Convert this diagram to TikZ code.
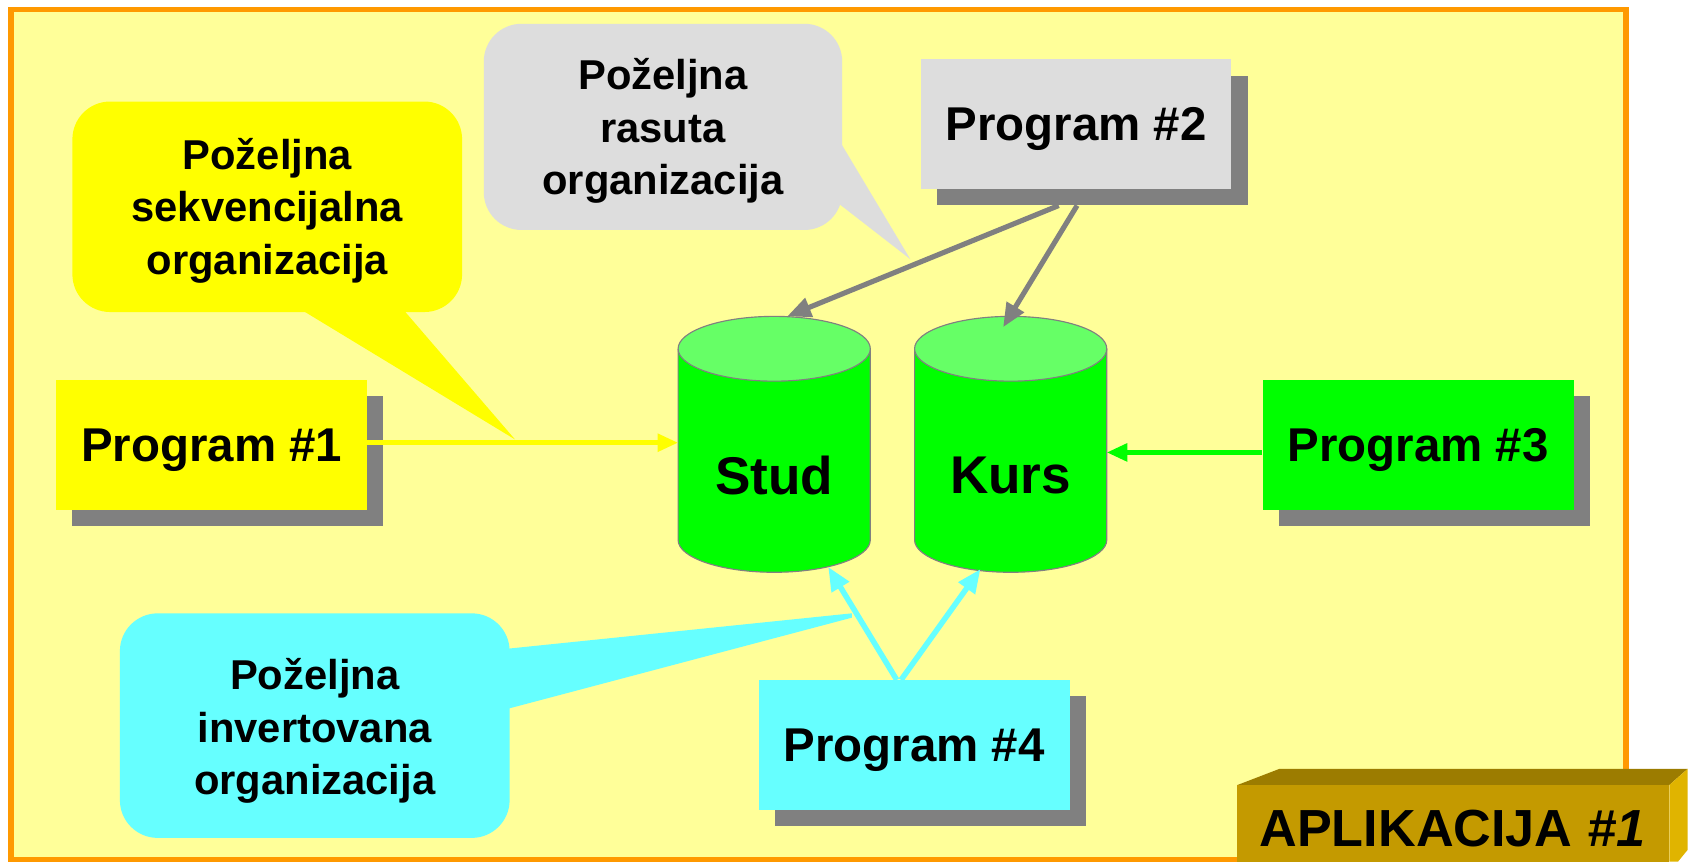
\documentclass[tikz,border=0pt]{standalone}
\usepackage{fontspec}
\setmainfont{Liberation Sans}
\usetikzlibrary{arrows.meta,shadows,calc}
\definecolor{bgyellow}{HTML}{FFFF99}
\definecolor{frameorange}{HTML}{FF9900}
\definecolor{pyellow}{HTML}{FFFF00}
\definecolor{pgray}{HTML}{DDDDDD}
\definecolor{shadowgray}{HTML}{808080}
\definecolor{pgreen}{HTML}{00FF00}
\definecolor{ltgreen}{HTML}{66FF66}
\definecolor{pcyan}{HTML}{66FFFF}
\definecolor{goldfront}{HTML}{C49A00}
\definecolor{goldtop}{HTML}{9C7C00}
\definecolor{goldside}{HTML}{E0B400}
\begin{document}
\begin{tikzpicture}[x=0.02cm,y=-0.02cm,
  progbox/.style={minimum width=5.76cm, minimum height=2.4cm, inner sep=0pt, text depth=0pt,
    font=\bfseries\fontsize{25}{30}\selectfont,
    drop shadow={shadow xshift=0.3cm, shadow yshift=-0.3cm, fill=shadowgray, opacity=1}},
  callbox/.style={rounded corners=0.7cm, inner sep=0pt, align=center,
    font=\bfseries\fontsize{22}{27.6}\selectfont},
  dblabel/.style={font=\bfseries\fontsize{28}{32}\selectfont, inner sep=0pt},
  cylbody/.style={fill=pgreen, draw=shadowgray, line width=0.6pt},
  cyltop/.style={fill=ltgreen, draw=shadowgray, line width=0.6pt},
  grayarrow/.style={draw=shadowgray, line width=2.7pt, -{Triangle[length=0.44cm, width=0.36cm]}},
  yelarrow/.style={draw=pyellow, line width=2.5pt, -{Triangle[length=0.38cm, width=0.32cm]}},
  grnarrow/.style={draw=pgreen, line width=2.5pt, -{Triangle[length=0.38cm, width=0.32cm]}},
  cyanarrow/.style={draw=pcyan, line width=2.9pt, -{Triangle[length=0.44cm, width=0.36cm]}}
]
\useasboundingbox (0,0) rectangle (1567,798);
\fill[white] (0,0) rectangle (1567,798);
% frame
\draw[frameorange, fill=bgyellow, line width=2.9pt] (10,9) rectangle (1506,796);

% callouts
\node[callbox, fill=pyellow, minimum width=7.22cm, minimum height=3.9cm] (c1) at (247.5,191.5) {};
\node[callbox] at (247.5,195) {Poželjna\\sekvencijalna\\organizacija};
\coordinate (c1tip) at (477,407);
\fill[pyellow] (276,285) -- (c1tip) -- (372,285) -- cycle;

\node[callbox, fill=pgray, minimum width=6.64cm, minimum height=3.82cm] (c2) at (614,117.5) {};
\node[callbox] at (614,121.5) {Poželjna\\rasuta\\organizacija};
\coordinate (c2tip) at (843,240);
\fill[pgray] (776,128) -- (c2tip) -- (776,188) -- cycle;

\node[callbox, fill=pcyan, minimum width=7.22cm, minimum height=4.16cm] (c3) at (291.5,672) {};
\node[callbox] at (291.5,677) {Poželjna\\invertovana\\organizacija};
\coordinate (c3tip) at (789,568);
\fill[pcyan] (468,601) -- (c3tip) -- (789,572) -- (468,657) -- cycle;

% cylinders
\fill[pgreen] (628,323) rectangle (806,500);
\draw[cylbody] (628,323) -- (628,500) arc[start angle=180, end angle=0, x radius=89, y radius=30] -- (806,323);
\draw[cyltop] (717,323) ellipse [x radius=89, y radius=30];
\node[dblabel] (stud) at (717,440) {Stud};

\fill[pgreen] (847,323) rectangle (1025,500);
\draw[cylbody] (847,323) -- (847,500) arc[start angle=180, end angle=0, x radius=89, y radius=30] -- (1025,323);
\draw[cyltop] (936,323) ellipse [x radius=89, y radius=30];
\node[dblabel] (kurs) at (936,440) {Kurs};

\coordinate (studL) at (628,410);
\coordinate (studT) at (729,293);
\coordinate (studB) at (767,525);
\coordinate (kursR) at (1025,419);
\coordinate (kursT) at (929,303);
\coordinate (kursB) at (908,527);

% programs
\node[progbox, fill=pyellow] (p1) at (196,412) {Program \#1};
\node[progbox, fill=pgray] (p2) at (996.5,115) {Program \#2};
\node[progbox, fill=pgreen] (p3) at (1313.5,412) {Program \#3};
\node[progbox, fill=pcyan] (p4) at (846.5,690) {Program \#4};

% connectors
\draw[yelarrow] (p1.east |- studL) -- (studL);
\coordinate (p2a) at ($(p2.south)+(-16,15)$);
\coordinate (p2b) at ($(p2.south)+(1,15)$);
\draw[grayarrow] (p2a) -- (studT);
\draw[grayarrow] (p2b) -- (kursT);
\draw[grnarrow] (p3.west |- kursR) -- (kursR);
\coordinate (p4a) at ($(p4.north)+(-16,0)$);
\coordinate (p4b) at ($(p4.north)+(-12,0)$);
\draw[cyanarrow] (p4a) -- (studB);
\draw[cyanarrow] (p4b) -- (kursB);

% title block
\fill[goldtop] (1146,727) -- (1185,712) -- (1563,712) -- (1546,727) -- cycle;
\fill[goldside] (1546,727) -- (1563,712) -- (1563,787) -- (1554,798) -- (1546,798) -- cycle;
\fill[goldfront] (1146,727) rectangle (1546,798);
\node[font=\bfseries\fontsize{27.5}{30}\selectfont, inner sep=0pt] (title) at (1345,767)
  {APLIKACIJA \textit{\#1}};
\end{tikzpicture}
\end{document}
